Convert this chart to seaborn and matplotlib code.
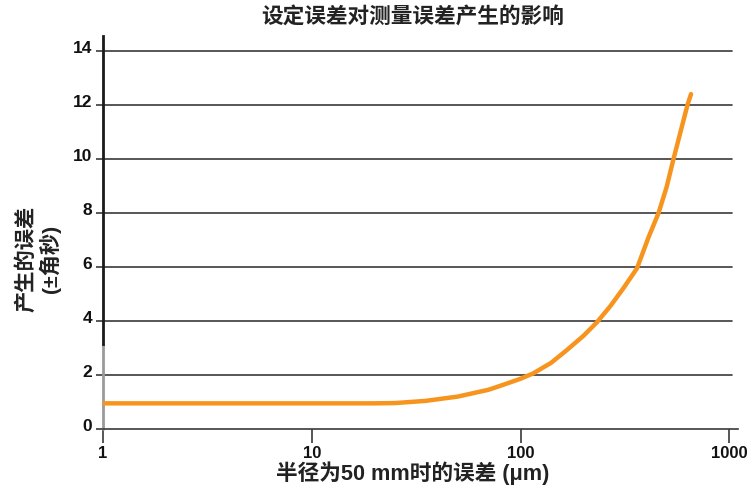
import matplotlib
matplotlib.use("Agg")
import matplotlib.pyplot as plt
import matplotlib.ticker as mticker
import matplotlib.transforms as mtransforms
import seaborn as sns
import pandas as pd

# Setting error at 50 mm radius (µm) vs resulting error (± arcsec)
setting_error_um = [1, 5, 10, 20, 25, 35, 50, 70, 80, 100, 115, 140, 167, 200, 232,
                    269, 310, 361, 410, 458, 500, 540, 630, 655]
resulting_error = [0.95, 0.95, 0.95, 0.95, 0.96, 1.04, 1.2, 1.45, 1.6, 1.86, 2.06, 2.45, 2.93, 3.45, 3.95,
                   4.55, 5.2, 5.95, 7.1, 8.0, 8.95, 10.0, 12.0, 12.4]

x_ticks = [1, 10, 100, 1000]
x_tick_labels = ["1", "10", "100", "1000"]
y_ticks = [0, 2, 4, 6, 8, 10, 12, 14]

title = "设定误差对测量误差产生的影响"
x_label = "半径为50 mm时的误差 (μm)"
y_label = "产生的误差\n(±角秒)"

sns.set_theme(style="white")
plt.rcParams["font.family"] = ["Liberation Sans", "Noto Sans CJK SC", "DejaVu Sans"]
plt.rcParams["font.weight"] = "bold"

df = pd.DataFrame({"setting": setting_error_um, "result": resulting_error})

fig = plt.figure(figsize=(7.47, 4.90), dpi=100)
ax = fig.add_axes([0.1379, 0.1245, 0.8501, 0.802])

ax.set_xscale("log")
ax.set_xlim(1, 1100)
ax.set_ylim(0, 14.55)

# horizontal reference lines
for yv in y_ticks[1:]:
    ax.axhline(yv, color="#3a3a3a", lw=1.2, xmax=0.99, zorder=1)

sns.lineplot(data=df, x="setting", y="result", ax=ax, color="#F7941D",
             lw=3.2, zorder=3, legend=False)

ax.set_xticks(x_ticks)
ax.set_xticklabels(x_tick_labels)
ax.xaxis.set_minor_locator(mticker.NullLocator())
ax.set_yticks(y_ticks)
ax.set_yticklabels([str(v) for v in y_ticks])

ax.tick_params(axis="x", direction="out", length=10, width=1.2, color="#3a3a3a",
               pad=2, labelsize=12, bottom=True)
ax.tick_params(axis="y", direction="out", length=5, width=1.2, color="#3a3a3a",
               pad=3, labelsize=12.5, left=True)
for lab in ax.get_yticklabels():
    lab.set_transform(lab.get_transform() + mtransforms.ScaledTranslation(0, 3 / 72, fig.dpi_scale_trans))
for lab in ax.get_xticklabels() + ax.get_yticklabels():
    lab.set_fontweight("bold")
    lab.set_color("#111111")

for side in ["top", "right"]:
    ax.spines[side].set_visible(False)
ax.spines["bottom"].set_color("#3a3a3a")
ax.spines["bottom"].set_linewidth(1.2)
ax.spines["left"].set_color("#1a1a1a")
ax.spines["left"].set_linewidth(2)
ax.spines["left"].set_bounds(3.15, 14.55)
ax.axvline(1, ymin=0, ymax=3.15 / 14.55, color="#9a9a9a", lw=2, zorder=2, clip_on=False)

ax.set_xlabel("")
ax.set_ylabel("")
fig.text(413 / 747, 1 - 18 / 490, title, ha="center", va="center", fontsize=15.6,
         fontweight="bold", color="#222222")
fig.text(413 / 747, 1 - 473 / 490, x_label, ha="center", va="center", fontsize=15.6,
         fontweight="bold", color="#222222")
fig.text(38 / 747, 1 - 259 / 490, y_label, ha="center", va="center", rotation=90,
         fontsize=15.3, fontweight="bold", color="#222222", multialignment="center",
         linespacing=1.12)

fig.savefig("out.png", dpi=100)
